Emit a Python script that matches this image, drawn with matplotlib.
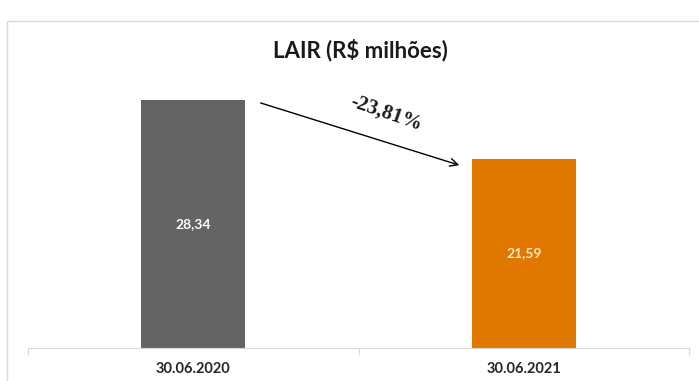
import matplotlib.pyplot as plt
from matplotlib.patches import Rectangle

plt.rcParams["font.family"] = ["Lato", "DejaVu Sans"]

categories = ["30.06.2020", "30.06.2021"]
values = [28.34, 21.59]
value_labels = ["28,34", "21,59"]
change_label = "-23,81%"

GREY = "#646464"
ORANGE = "#e07800"
FRAME = "#d9d9d9"

fig = plt.figure(figsize=(6.99, 3.81), dpi=100)

# outer chart frame (runs off the right/bottom edge in the original)
fig.patches.append(Rectangle((7 / 699, -0.2), 1.1, 1.2 - 21 / 381,
                             transform=fig.transFigure, fill=False,
                             edgecolor=FRAME, lw=1.0))

ax = fig.add_axes([28 / 699, 1 - 348 / 381, 661 / 699, 262.5 / 381])
x = range(len(categories))
ax.bar(x, values, width=0.315, color=[GREY, ORANGE])

label_colors = ["white", "#fbe7c4"]
for i, (v, lab) in enumerate(zip(values, value_labels)):
    ax.text(i, v / 2, lab, ha="center", va="center", color=label_colors[i],
            fontsize=10, fontweight="bold")

ax.set_xlim(-0.5, 1.5)
ax.set_ylim(0, 30)
ax.set_yticks([])
for s in ["top", "right", "left"]:
    ax.spines[s].set_visible(False)
ax.spines["bottom"].set_color(FRAME)
ax.set_xticks([-0.5, 0.5, 1.5])
ax.set_xticklabels([])
ax.set_xticks(list(x), minor=True)
ax.set_xticklabels(categories, minor=True, fontsize=10.5, fontweight="bold",
                   color="#262626")
ax.tick_params(axis="x", which="major", length=5, color=FRAME)
ax.tick_params(axis="x", which="minor", length=0, pad=10)

ax.annotate("", xy=(0.813, 20.8), xytext=(0.196, 28.1),
            arrowprops=dict(arrowstyle="->", color="black", lw=1.0,
                            mutation_scale=14))
ax.text(0.585, 26.8, change_label, rotation=-19, ha="center", va="center",
        fontsize=15, fontweight="bold", family="Liberation Serif",
        color="#1a1a1a")

fig.text(0.515, 1 - 50 / 381, "LAIR (R$ milhões)", ha="center", va="center",
         fontsize=16, fontweight="bold", color="#1a1a1a")

fig.savefig("out.png", dpi=100)
